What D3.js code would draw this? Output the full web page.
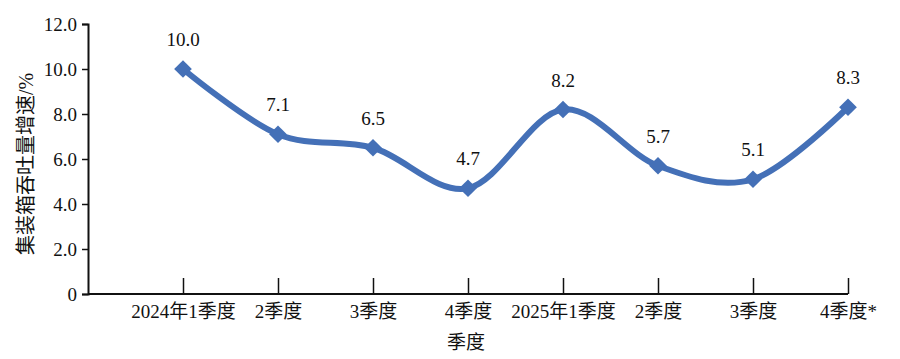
<!DOCTYPE html>
<html>
<head>
<meta charset="utf-8">
<script src="https://cdn.jsdelivr.net/npm/d3@7"></script>
<style>
	body { margin: 0; background: #fff; }
	svg text { font-family: "Liberation Serif", "Noto Sans CJK SC", serif; fill: #111; }
</style>
</head>
<body>
<svg id="viz"></svg>
<script>
	// the data
	var quarters = ["2024年1季度", "2季度", "3季度", "4季度", "2025年1季度", "2季度", "3季度", "4季度*"];
	var growth = [10.0, 7.1, 6.5, 4.7, 8.2, 5.7, 5.1, 8.3];
	var yTicks = [0, 2, 4, 6, 8, 10, 12];

	// set up the svg
	var w = 900, h = 359;
	var viz = d3.select("#viz").attr("width", w).attr("height", h);

	// plot edges (note: "top" is reserved on window, so use plotTop)
	var plotLeft = 88, plotRight = 848, plotTop = 24, plotBottom = 294;
	var step = (plotRight - plotLeft) / quarters.length;

	var x = d3.scalePoint()
		.domain(d3.range(quarters.length))
		.range([plotLeft + step, plotRight]);
	var y = d3.scaleLinear().domain([0, 12]).range([plotBottom, plotTop]);

	// y axis
	var yAxis = d3.axisLeft(y)
		.tickValues(yTicks)
		.tickSize(6)
		.tickFormat(function(d) { return d === 0 ? "0" : d.toFixed(1); });
	var gy = viz.append("g").attr("transform", "translate(" + plotLeft + ",0)").call(yAxis);
	gy.select(".domain").attr("stroke", "#111").attr("stroke-width", 2);
	gy.selectAll(".tick line").attr("stroke", "#111").attr("stroke-width", 1.5);
	gy.selectAll(".tick text").attr("x", -11).style("font-size", "19px");

	// x axis: ticks point up at each category
	var xAxis = d3.axisBottom(x)
		.tickSizeInner(-16)
		.tickSizeOuter(0)
		.tickFormat(function(d) { return quarters[d]; });
	var gx = viz.append("g").attr("transform", "translate(0," + plotBottom + ")").call(xAxis);
	gx.select(".domain").attr("d", "M" + plotLeft + ",0H" + plotRight).attr("stroke", "#111").attr("stroke-width", 2);
	gx.selectAll(".tick line").attr("stroke", "#111").attr("stroke-width", 1.5);
	gx.selectAll(".tick text").attr("y", 11).attr("dy", "0.71em").style("font-size", "19px");

	// axis titles
	viz.append("text")
		.attr("transform", "translate(26,164) rotate(-90)")
		.attr("text-anchor", "middle")
		.attr("dy", "0.35em")
		.style("font-size", "20px")
		.text("集装箱吞吐量增速/%");

	viz.append("text")
		.attr("x", 466)
		.attr("y", 349)
		.attr("text-anchor", "middle")
		.style("font-size", "19px")
		.text("季度");

	// smooth line
	var line = d3.line()
		.x(function(d, i) { return x(i); })
		.y(function(d) { return y(d); })
		.curve(d3.curveCatmullRom.alpha(0));
	viz.append("path")
		.datum(growth)
		.attr("d", line)
		.attr("fill", "none")
		.attr("stroke", "#4470b7")
		.attr("stroke-width", 6)
		.attr("stroke-linecap", "round");

	// diamond markers
	viz.selectAll("path.marker")
		.data(growth)
		.enter()
		.append("path")
		.attr("class", "marker")
		.attr("d", d3.symbol().type(d3.symbolDiamond2).size(200))
		.attr("transform", function(d, i) { return "translate(" + x(i) + "," + y(d) + ")"; })
		.attr("fill", "#4470b7");

	// value labels
	viz.selectAll("text.val")
		.data(growth)
		.enter()
		.append("text")
		.attr("class", "val")
		.attr("x", function(d, i) { return x(i); })
		.attr("y", function(d) { return y(d) - 23; })
		.attr("text-anchor", "middle")
		.style("font-size", "19px")
		.text(function(d) { return d.toFixed(1); });
</script>
</body>
</html>
